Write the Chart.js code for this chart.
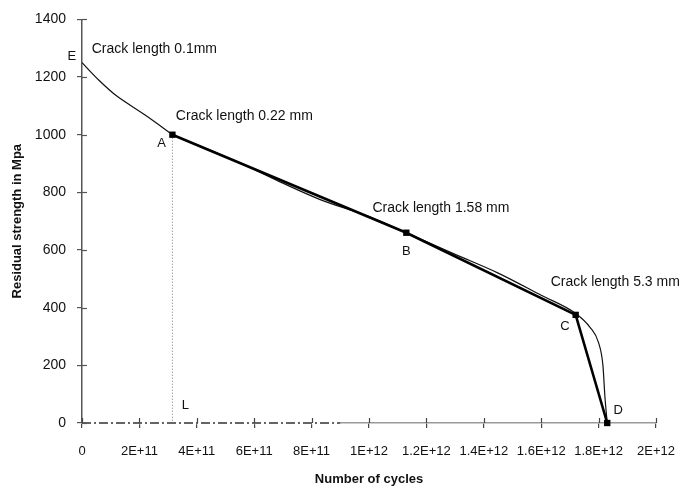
<!DOCTYPE html>
<html>
<head>
<meta charset="utf-8">
<script src="https://cdn.jsdelivr.net/npm/chart.js@4.4.1/dist/chart.umd.min.js"></script>
<style>
  html, body { margin: 0; padding: 0; background: #fff; }
  #wrap { width: 691px; height: 495px; }
</style>
</head>
<body>
<div id="wrap"><canvas id="c" width="691" height="495"></canvas></div>
<script>
// ---- data ----
const xTickLabels = ['0', '2E+11', '4E+11', '6E+11', '8E+11', '1E+12', '1.2E+12', '1.4E+12', '1.6E+12', '1.8E+12', '2E+12'];
const yTickValues = [0, 200, 400, 600, 800, 1000, 1200, 1400];

// thin (computed) curve, E to A
const thinHeadX = [0, 6.0e10, 1.2e11, 2.2e11, 3.15e11];
const thinHeadY = [1250, 1188, 1135, 1068, 1000];
// thin (computed) curve, A to D
const thinX = [3.15e11, 5.6e11, 7.0e11, 8.3e11, 1.0e12, 1.13e12, 1.3e12, 1.45e12, 1.6e12, 1.72e12, 1.77e12, 1.80e12, 1.815e12, 1.822e12, 1.83e12];
const thinY = [1000, 898, 832, 775, 716, 660, 585, 520, 443, 380, 332, 278, 200, 90, 0];

// thick (key points A, B, C, D)
const keyX = [3.15e11, 1.13e12, 1.72e12, 1.83e12];
const keyY = [1000, 660, 375, 0];

// dotted drop line from A to L
const dropX = [3.15e11, 3.15e11];
const dropY = [1000, 0];

// dash-dot segment on the x axis
const dashX = [0, 9.0e11];
const dashY = [0, 0];

// annotation labels (data coordinates)
const noteText = ['E', 'Crack length 0.1mm', 'A', 'Crack length 0.22 mm', 'Crack length 1.58 mm', 'B', 'Crack length 5.3 mm', 'C', 'D', 'L'];
const noteX = [-3.5e10, 3.4e10, 2.77e11, 3.27e11, 1.012e12, 1.13e12, 1.633e12, 1.683e12, 1.868e12, 3.6e11];
const noteY = [1270, 1297, 970, 1066, 745, 596, 490, 334, 45, 62];
const noteAlign = ['center', 'left', 'center', 'left', 'left', 'center', 'left', 'center', 'center', 'center'];

const pts = (xs, ys) => xs.map((x, i) => ({ x: x, y: ys[i] }));

const crossTicks = {
  id: 'crossTicks',
  afterDatasetsDraw(chart) {
    const ctx = chart.ctx;
    const xs = chart.scales.x, ys = chart.scales.y;
    const y0 = ys.getPixelForValue(0);
    const x0 = xs.getPixelForValue(0);
    ctx.save();
    ctx.lineWidth = 1.2;
    ctx.strokeStyle = '#555';
    ys.ticks.forEach(t => {
      const py = Math.round(ys.getPixelForValue(t.value)) + 0.5;
      ctx.beginPath(); ctx.moveTo(x0, py); ctx.lineTo(x0 + 5, py); ctx.stroke();
    });
    ctx.strokeStyle = '#444';
    xs.ticks.forEach(t => {
      const px = Math.round(xs.getPixelForValue(t.value)) + 0.5;
      ctx.beginPath(); ctx.moveTo(px, y0 - 5); ctx.lineTo(px, y0); ctx.stroke();
    });
    // notes
    ctx.fillStyle = '#111';
    ctx.textBaseline = 'middle';
    noteText.forEach((txt, i) => {
      ctx.font = txt.length === 1 ? '13px "Liberation Sans", Arial, sans-serif' : '14px "Liberation Sans", Arial, sans-serif';
      ctx.textAlign = noteAlign[i];
      ctx.fillText(txt, xs.getPixelForValue(noteX[i]), ys.getPixelForValue(noteY[i]));
    });
    ctx.restore();
  }
};

new Chart(document.getElementById('c'), {
  type: 'line',
  data: {
    datasets: [
      { data: pts(keyX, keyY), order: 1, borderColor: '#000', borderWidth: 2.6, pointRadius: 4.5, pointStyle: 'rect', pointBackgroundColor: '#000', pointBorderColor: '#000', pointBorderWidth: 0, tension: 0, fill: false, clip: false },
      { data: pts(thinX, thinY), order: 2, borderColor: '#111', borderWidth: 1.2, pointRadius: 0, cubicInterpolationMode: 'monotone', fill: false, clip: false },
      { data: pts(thinHeadX, thinHeadY), order: 3, borderColor: '#111', borderWidth: 1.2, pointRadius: 0, tension: 0.3, fill: false, clip: false },
      { data: pts(dropX, dropY), order: 4, borderColor: '#777', borderWidth: 1, borderDash: [1, 2], pointRadius: 0, fill: false },
      { data: pts(dashX, dashY), order: 5, borderColor: '#333', borderWidth: 1.4, borderDash: [9, 3, 2, 3], pointRadius: 0, fill: false, clip: false },
      { data: pts(dashX, dashY), order: 6, borderColor: '#fff', borderWidth: 2.5, pointRadius: 0, fill: false, clip: false }
    ]
  },
  options: {
    responsive: false,
    animation: false,
    events: [],
    layout: { padding: { left: 0, right: 32, top: 17, bottom: 8 } },
    plugins: { legend: { display: false }, tooltip: { enabled: false } },
    scales: {
      x: {
        type: 'linear', min: 0, max: 2e12,
        afterFit: s => { s.height = 64; },
        afterBuildTicks: s => { s.ticks = xTickLabels.map((l, i) => ({ value: i * 2e11 })); },
        border: { display: true, color: '#999', width: 1.5 },
        grid: { display: true, drawOnChartArea: false, drawTicks: true, tickLength: 5, color: '#444', lineWidth: 1.2 },
        ticks: { padding: 16, color: '#111', font: { family: '"Liberation Sans", Arial, sans-serif', size: 13 }, maxRotation: 0, autoSkip: false,
          callback: (v, i) => xTickLabels[i] },
        title: { display: true, text: 'Number of cycles', color: '#111', padding: { top: 13, bottom: 0 },
          font: { family: '"Liberation Sans", Arial, sans-serif', size: 13, weight: 'bold' } }
      },
      y: {
        type: 'linear', min: 0, max: 1400,
        afterFit: s => { s.width = 82; },
        afterBuildTicks: s => { s.ticks = yTickValues.map(v => ({ value: v })); },
        border: { display: true, color: '#555', width: 1.5 },
        grid: { display: true, drawOnChartArea: false, drawTicks: true, tickLength: 5, color: '#555', lineWidth: 1.2 },
        ticks: { padding: 11, color: '#111', font: { family: '"Liberation Sans", Arial, sans-serif', size: 14 }, autoSkip: false,
          callback: v => String(v) },
        title: { display: true, text: 'Residual strength in Mpa', color: '#111', padding: { top: 10, bottom: 0 },
          font: { family: '"Liberation Sans", Arial, sans-serif', size: 13, weight: 'bold' } }
      }
    }
  },
  plugins: [crossTicks]
});
</script>
</body>
</html>
